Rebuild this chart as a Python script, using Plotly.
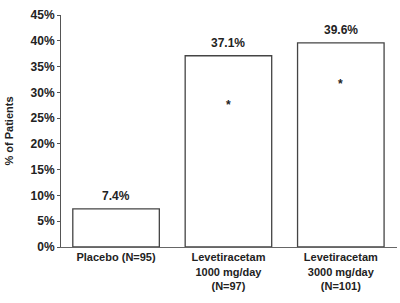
import plotly.graph_objects as go

categories = ["Placebo (N=95)", "Levetiracetam<br>1000 mg/day<br>(N=97)", "Levetiracetam<br>3000 mg/day<br>(N=101)"]
values = [7.4, 37.1, 39.6]
value_labels = ["7.4%", "37.1%", "39.6%"]
sig_y = [None, 27.5, 31.6]
y_ticks = [0, 5, 10, 15, 20, 25, 30, 35, 40, 45]
y_tick_labels = [f"{t}%" for t in y_ticks]

FONT = "Liberation Sans Narrow, Arial Narrow, Liberation Sans, sans-serif"

fig = go.Figure()
fig.add_trace(go.Bar(
    x=list(range(len(categories))), y=values,
    marker=dict(color="white", line=dict(color="#444444", width=1.3)),
    width=0.77, showlegend=False, hoverinfo="skip",
))

for i, (v, lab) in enumerate(zip(values, value_labels)):
    fig.add_annotation(x=i, y=v, text=lab, showarrow=False, yanchor="bottom", yshift=4,
                       font=dict(family=FONT, size=12, color="#222222", weight="bold"))
for i, s in enumerate(sig_y):
    if s is not None:
        fig.add_annotation(x=i, y=s, text="*", showarrow=False, yanchor="middle",
                           font=dict(family=FONT, size=12, color="#222222", weight="bold"))

fig.update_layout(
    width=400, height=303,
    margin=dict(l=61, r=3, t=15, b=56),
    paper_bgcolor="white", plot_bgcolor="white",
    font=dict(family=FONT, color="#222222"),
    xaxis=dict(range=[-0.49, 2.5], tickvals=list(range(len(categories))), ticktext=categories,
               showline=True, linecolor="#666666", linewidth=1, showgrid=False, zeroline=False,
               ticks="", tickfont=dict(family=FONT, size=11, color="#222222", weight="bold")),
    yaxis=dict(range=[0, 45], tickvals=y_ticks, ticktext=y_tick_labels,
               showline=True, linecolor="#555555", linewidth=1, showgrid=False, zeroline=False,
               ticks="outside", ticklen=3, tickcolor="#555555",
               tickfont=dict(family=FONT, size=12, color="#222222", weight="bold"),
               title=dict(text="% of Patients", standoff=14,
                          font=dict(family=FONT, size=11, color="#222222", weight="bold"))),
)

fig.write_html("out.html")
